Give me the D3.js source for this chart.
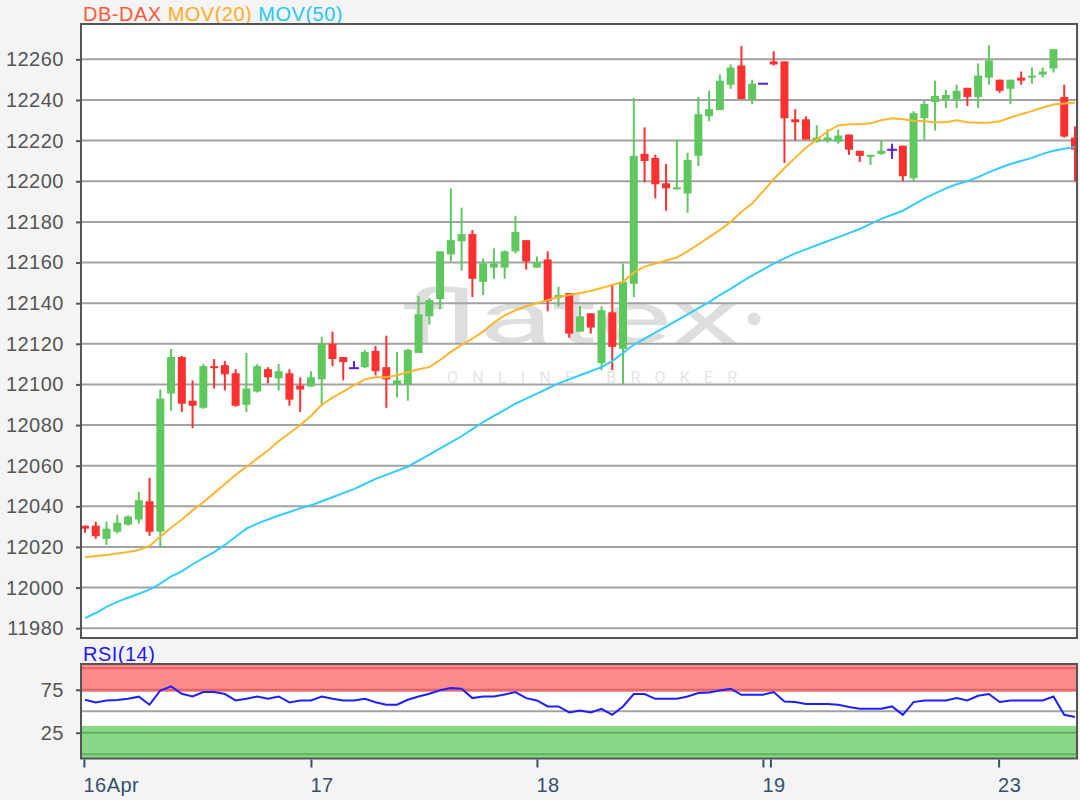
<!DOCTYPE html>
<html><head><meta charset="utf-8">
<script src="https://cdn.jsdelivr.net/npm/d3@7"></script>
<style>
html,body{margin:0;padding:0;background:#f4f4f4;}
svg{display:block;font-family:"Liberation Sans",Arial,sans-serif;}
</style></head><body>
<svg id="chart" width="1080" height="800"></svg>
<script>
// ---- data (hourly candles, index 0..92) ----
const opens = [12030.5,12030.5,12024,12027.5,12031,12033.5,12042.5,12027.5,12095.5,12113.5,
  12092,12088.5,12109,12109.5,12105.5,12090,12096.5,12107.5,12103,12105.5,
  12099.5,12099,12102.5,12120,12113.5,12108,12108.5,12116.5,12108.5,12100,
  12100,12115.5,12133.5,12142,12164,12170.5,12174,12150.5,12157.5,12157.5,
  12165.5,12171,12157.5,12161.5,12142.5,12145,12126,12135,12110.5,12135.5,
  12117.5,12149.5,12213.5,12211.5,12199,12196,12194,12212.5,12232,12235,
  12247.5,12257,12240.5,12248,12259,12259,12230.5,12230.5,12219.5,12220,
  12219.5,12223,12215,12212,12213.5,12215.5,12217.5,12201.5,12231,12239,
  12240.5,12240.5,12246,12241.5,12251,12250,12245.5,12251,12251,12252.5,
  12255.5,12241.5,12221.5];
const highs = [12030.5,12032.5,12032.5,12036,12035.5,12047,12054,12097.5,12117.5,12114,
  12102,12110,12112.5,12111.5,12107.5,12115.5,12110,12108.5,12110,12107.5,
  12103.5,12106.5,12123.5,12126,12113.5,12111.5,12117,12119,12124,12116,
  12117.5,12143.5,12142.5,12165.5,12196.5,12187,12176,12162,12167,12166,
  12183,12171,12163,12165.5,12148,12145,12138.5,12135,12138.5,12149.5,
  12159.5,12241,12226.5,12213,12208.5,12220.5,12214,12241.5,12244.5,12252.5,
  12257.5,12266.5,12250,12248,12264,12259,12235.5,12232,12227.5,12225.5,
  12225.5,12223,12215,12213,12220,12218.5,12217.5,12234.5,12239.5,12249.5,
  12245,12247.5,12246,12258,12267,12250,12250,12254,12256,12256,
  12265,12247.5,12227];
const lows = [12027,12024,12021,12026.7,12030.5,12031.5,12025.5,12019.5,12087,12086.5,
  12078.5,12088,12098,12097,12089,12086.5,12096,12100.5,12097,12089.5,
  12086.5,12099,12089.5,12109,12102,12108,12108,12104.5,12088.5,12093.5,
  12092,12115.5,12129.5,12137,12160.5,12156,12143,12144,12152,12152,
  12164.5,12156.5,12157.5,12136,12138.5,12123,12126,12125,12107,12107,
  12100,12143,12199.5,12191.5,12185.5,12196,12184.5,12207.5,12229.5,12235,
  12245.5,12240.5,12238,12248,12257,12209,12220,12220.5,12219,12219,
  12218.5,12213,12209.5,12208,12213,12211,12200,12200,12220.5,12225,
  12236,12236,12237,12236,12247.5,12243.5,12238,12247.5,12248,12251,
  12253.5,12221.5,12200];
const closes = [12029,12025.3,12029,12032,12035,12043,12027.5,12093,12113.5,12090.5,
  12089.5,12109,12108,12105,12089.5,12098,12109,12103.5,12106.5,12092.5,
  12097.5,12103.5,12120,12112.5,12111,12108,12116,12106.5,12102.5,12102,
  12117,12134.5,12141.5,12165.5,12171,12174,12152,12159.5,12159.5,12165.5,
  12175,12160.5,12160,12141,12144,12125,12133.5,12128,12136.5,12118.5,
  12150.5,12212.5,12210,12198.5,12196.5,12197,12210.5,12233,12235.5,12249.5,
  12256,12240.5,12248,12248,12257.5,12231,12229,12220.5,12221.5,12221.5,
  12222.5,12215.5,12212.5,12213,12215,12215.5,12202.5,12233.5,12238,12242,
  12242.5,12244.5,12241.5,12252,12259.5,12244.5,12250,12249.5,12252,12254,
  12265,12222,12215.5];
const mov20 = [12015,12015.5,12016,12016.8,12017.5,12018.5,12020.5,12025,12029.5,12033.5,
  12038,12042,12046.5,12051,12055.5,12059.5,12063.5,12067.5,12072,12076,
  12080,12084.5,12090,12093.5,12096.5,12099.5,12102.5,12103.5,12103.5,12104.5,
  12106,12107.5,12108.5,12112,12116,12119.5,12122.5,12126,12130.5,12134,
  12136.5,12138.5,12140,12141.5,12143,12144,12145,12146,12147.5,12149,
  12150.5,12155,12158,12159.5,12161,12162.5,12165.5,12169,12172.5,12176,
  12180,12185,12189,12195,12201,12206.5,12211.5,12216.5,12220.5,12224.5,
  12227.5,12228,12228,12228.5,12230,12231,12230.5,12229.8,12229.5,12229,
  12229,12230,12229,12228.8,12228.8,12229.5,12231.4,12233,12234.5,12236.3,
  12237.8,12238.3,12238.6];
const mov50 = [11985,11987.5,11990.5,11993,11995,11997,11999,12002,12005.5,12008,
  12011.5,12014.5,12017.5,12021,12025,12029,12031.5,12033.5,12035.5,12037.2,
  12039,12040.5,12042.5,12044.5,12046.5,12048.5,12051,12053.5,12055.5,12057.5,
  12059.5,12062.5,12065.5,12068.5,12071.5,12074.5,12078,12081.5,12084.5,12087.5,
  12090.5,12093,12095.5,12098,12100.5,12102.5,12104.5,12106.5,12108.5,12111.5,
  12115.5,12119.5,12122.5,12125.5,12128.5,12131.5,12134.5,12137.5,12140.5,12144,
  12147,12150.5,12153.5,12156.5,12159.5,12162,12164.5,12166.5,12168.5,12170.5,
  12172.5,12174.5,12176.5,12179,12181.5,12183.5,12185.5,12188.5,12191.5,12194,
  12196.5,12198.5,12200,12202,12204.5,12206.5,12208.5,12210,12211.5,12213.5,
  12215,12216,12216.8];
const rsi14 = [63.4,60.2,62.6,63,64.5,67,57.6,74.2,78.9,70.3,
  67.2,72.3,72.3,70,62.6,64.5,67.2,64.5,67.2,60.2,
  62.6,62.6,67.2,64.5,62.6,62.6,64.5,60.5,57.6,57.6,
  63.4,67.2,70.3,74.5,77,76.2,65.3,67.2,67.2,69.5,
  72.3,65.3,62.6,55.6,55.6,48.6,50.9,48.6,52.9,45.9,
  55.6,70,70,64.5,64.5,64.5,67.2,71.2,71.9,74.2,
  76.2,69.2,69.2,69.2,72.3,61.4,60.7,58.4,58.4,58.4,
  57.6,54.9,52.9,52.9,52.9,55.6,45.9,60.7,62.6,62.6,
  62.6,65.3,62.6,68,70,60.7,62.6,62.6,62.6,62.6,
  67.2,45.9,43.2];
const priceTicks = [11980,12000,12020,12040,12060,12080,12100,12120,12140,12160,12180,12200,12220,12240,12260];
const rsiTicks = [25,75];
const dayTickIdx = [-0.1,21,42,63,63.7,84.9];
const dayTickLabels = ["16Apr","17","18","19","","23"];

// ---- layout ----
const L = 81, R = 1077, T = 24, B = 638, RT = 664, RB = 758.5;
const svg = d3.select("#chart");
const x = d3.scaleLinear().domain([-0.37, 92.28]).range([L, 1078]);
const y = d3.scaleLinear().domain([11975.2, 12277.4]).range([B, T]);
const yr = d3.scaleLinear().domain([-5, 105]).range([RB, RT]);

svg.append("rect").attr("width",1080).attr("height",800).attr("fill","#f4f4f4");

// title
const title = svg.append("text").attr("x",83).attr("y",21).attr("font-size",20).attr("letter-spacing",0.5);
title.append("tspan").attr("fill","#ff5a36").text("DB-DAX");
title.append("tspan").attr("fill","#ffad1f").text(" MOV(20)");
title.append("tspan").attr("fill","#28c8f5").text(" MOV(50)");

// main panel
svg.append("rect").attr("x",L).attr("y",T).attr("width",R-L).attr("height",B-T).attr("fill","#fff");
svg.append("defs").append("clipPath").attr("id","clipMain")
  .append("rect").attr("x",L).attr("y",T).attr("width",R-L).attr("height",B-T);
const main = svg.append("g").attr("clip-path","url(#clipMain)");

// watermark
main.append("text").attr("x",400).attr("y",343).attr("font-family","Roboto, 'Open Sans', sans-serif")
  .attr("font-size",74).attr("font-weight",400).attr("fill","#dedede")
  .attr("textLength",340).attr("lengthAdjust","spacingAndGlyphs").text("flatex");
main.append("circle").attr("cx",754).attr("cy",319).attr("r",6.5).attr("fill","#dedede");
main.append("text").attr("x",447).attr("y",383).attr("font-family","Roboto, 'Open Sans', sans-serif")
  .attr("font-size",16).attr("fill","#e4e4e4")
  .attr("textLength",290).attr("lengthAdjust","spacing").text("ONLINE BROKER");

// gridlines
main.selectAll("line.grid").data(priceTicks).join("line").attr("class","grid")
  .attr("x1",L).attr("x2",R).attr("y1",d=>y(d)).attr("y2",d=>y(d))
  .attr("stroke","#a2a2a2").attr("stroke-width",2);

// candles
const idx = d3.range(opens.length);
const colorOf = i => closes[i] > opens[i] ? "#5ec85e" : (closes[i] < opens[i] ? "#ff3030" : "#5a20d8");
const cg = main.append("g");
cg.selectAll("line.wick").data(idx).join("line").attr("class","wick")
  .attr("x1",i=>x(i)).attr("x2",i=>x(i)).attr("y1",i=>y(highs[i])).attr("y2",i=>y(lows[i]))
  .attr("stroke",colorOf).attr("stroke-width",2);
cg.selectAll("rect.body").data(idx.filter(i=>opens[i]!==closes[i])).join("rect").attr("class","body")
  .attr("x",i=>x(i)-4).attr("width",8)
  .attr("y",i=>y(Math.max(opens[i],closes[i])))
  .attr("height",i=>Math.max(1.5, Math.abs(y(opens[i])-y(closes[i]))))
  .attr("fill",colorOf);
cg.selectAll("line.doji").data(idx.filter(i=>opens[i]===closes[i])).join("line").attr("class","doji")
  .attr("x1",i=>x(i)-5).attr("x2",i=>x(i)+5).attr("y1",i=>y(opens[i])).attr("y2",i=>y(opens[i]))
  .attr("stroke",colorOf).attr("stroke-width",2);

// moving averages
const lineGen = d3.line().x((d,i)=>x(i)).y(d=>y(d));
main.append("path").datum(mov20).attr("d",lineGen).attr("fill","none").attr("stroke","#ffb52e").attr("stroke-width",2);
main.append("path").datum(mov50).attr("d",lineGen).attr("fill","none").attr("stroke","#33ccff").attr("stroke-width",2);

// frame
svg.append("rect").attr("x",L).attr("y",T).attr("width",R-L).attr("height",B-T)
  .attr("fill","none").attr("stroke","#555").attr("stroke-width",2);

// y axis main
const yAxis = svg.append("g").attr("transform",`translate(${L},0)`)
  .call(d3.axisLeft(y).tickValues(priceTicks).tickSize(5).tickPadding(12).tickFormat(d3.format("d")));
yAxis.select(".domain").remove();
yAxis.selectAll("line").attr("stroke","#555").attr("stroke-width",2);
yAxis.selectAll("text").attr("font-size",20).attr("fill","#555").attr("letter-spacing",0.5)
  .attr("font-family","'Liberation Sans',Arial,sans-serif");

// RSI panel
svg.append("text").attr("x",83).attr("y",661).attr("font-size",20).attr("letter-spacing",0.5)
  .attr("fill","#1a1aff").text("RSI(14)");
svg.append("rect").attr("x",L).attr("y",RT).attr("width",R-L).attr("height",RB-RT).attr("fill","#fff");
svg.append("clipPath").attr("id","clipRsi")
  .append("rect").attr("x",L).attr("y",RT).attr("width",R-L).attr("height",RB-RT);
const rg = svg.append("g").attr("clip-path","url(#clipRsi)");
rg.append("rect").attr("x",L).attr("width",R-L).attr("y",yr(105)).attr("height",yr(72.5)-yr(105)).attr("fill","#ff8a8a");
rg.append("rect").attr("x",L).attr("width",R-L).attr("y",yr(33)).attr("height",yr(-5)-yr(33)).attr("fill","#88d888");
[[100,"#e06464"],[75,"#e06464"],[25,"#5cb35c"],[0,"#5cb35c"],[50,"#a2a2a2"]].forEach(([v,c])=>{
  rg.append("line").attr("x1",L).attr("x2",R).attr("y1",yr(v)).attr("y2",yr(v)).attr("stroke",c).attr("stroke-width",2);
});
rg.append("path").datum(rsi14).attr("d",d3.line().x((d,i)=>x(i)).y(d=>yr(d)))
  .attr("fill","none").attr("stroke","#1f1fff").attr("stroke-width",2);
svg.append("rect").attr("x",L).attr("y",RT).attr("width",R-L).attr("height",RB-RT)
  .attr("fill","none").attr("stroke","#555").attr("stroke-width",2);

const rAxis = svg.append("g").attr("transform",`translate(${L},0)`)
  .call(d3.axisLeft(yr).tickValues(rsiTicks).tickSize(5).tickPadding(12));
rAxis.select(".domain").remove();
rAxis.selectAll("line").attr("stroke","#555").attr("stroke-width",2);
rAxis.selectAll("text").attr("font-size",20).attr("fill","#555").attr("letter-spacing",0.5)
  .attr("font-family","'Liberation Sans',Arial,sans-serif");

// x axis
const xAxis = svg.append("g").attr("transform",`translate(0,${RB+1})`)
  .call(d3.axisBottom(x).tickValues(dayTickIdx).tickSize(8).tickFormat((d,i)=>dayTickLabels[i]));
xAxis.select(".domain").remove();
xAxis.selectAll("line").attr("stroke","#35506e").attr("stroke-width",2);
xAxis.selectAll("text").attr("font-size",20).attr("fill","#35506e").attr("letter-spacing",0.5)
  .attr("font-family","'Liberation Sans',Arial,sans-serif")
  .attr("text-anchor","start").attr("y",32).attr("dy",0).attr("x",-1);
</script>
</body></html>
